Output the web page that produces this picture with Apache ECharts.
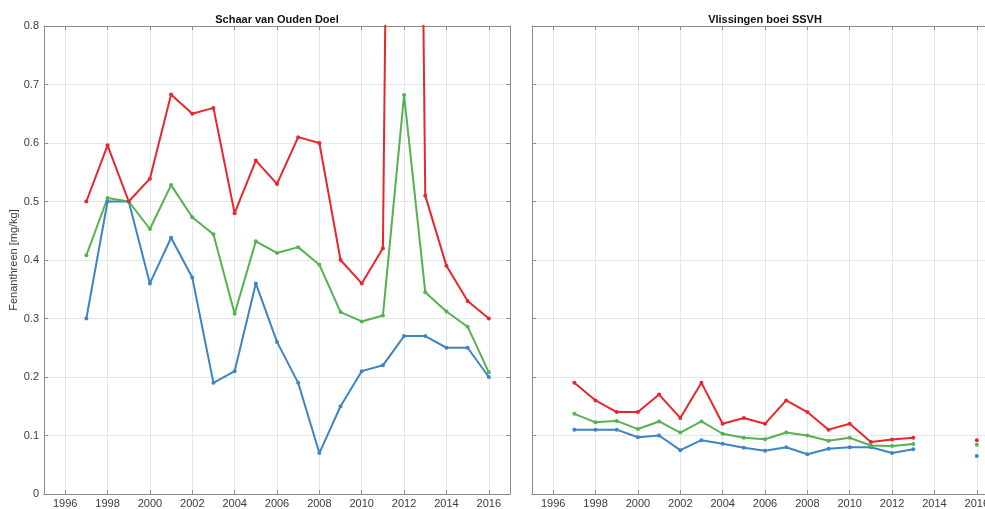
<!DOCTYPE html>
<html><head><meta charset="utf-8">
<script src="https://cdn.jsdelivr.net/npm/echarts@6/dist/echarts.min.js"></script>
<style>html,body{margin:0;padding:0;background:#fff;overflow:hidden}#c{width:985px;height:509px}</style>
</head><body><div id="c"></div>
<script>
const years = [1997,1998,1999,2000,2001,2002,2003,2004,2005,2006,2007,2008,2009,2010,2011,2012,2013,2014,2015,2016];
const panelTitles = ['Schaar van Ouden Doel', 'Vlissingen boei SSVH'];
const yAxisName = 'Fenanthreen [mg/kg]';

// Schaar van Ouden Doel
const leftMax  = [0.50,0.596,0.50,0.539,0.683,0.650,0.660,0.480,0.570,0.530,0.610,0.600,0.400,0.360,0.420,3.9,0.510,0.390,0.330,0.300];
const leftMean = [0.408,0.506,0.500,0.453,0.528,0.473,0.444,0.308,0.432,0.412,0.422,0.392,0.311,0.295,0.305,0.682,0.345,0.312,0.286,0.208];
const leftMin  = [0.300,0.500,0.500,0.360,0.438,0.370,0.190,0.210,0.360,0.260,0.190,0.070,0.150,0.210,0.220,0.270,0.270,0.250,0.250,0.200];

// Vlissingen boei SSVH
const rightMax  = [0.190,0.160,0.140,0.140,0.170,0.130,0.190,0.120,0.130,0.120,0.160,0.140,0.110,0.120,0.089,0.093,0.096,null,null,0.092];
const rightMean = [0.137,0.1225,0.125,0.111,0.124,0.105,0.124,0.103,0.096,0.0935,0.105,0.100,0.091,0.096,0.083,0.082,0.0855,null,null,0.084];
const rightMin  = [0.110,0.110,0.110,0.097,0.100,0.075,0.092,0.086,0.079,0.074,0.080,0.068,0.0775,0.080,0.080,0.070,0.0765,null,null,0.065];

const colors = {max:'#e8272d', mean:'#55b250', min:'#3d85c3'};
const FONT = '"Liberation Sans", Arial, Helvetica, sans-serif';
const boxColor = '#8c8c8c';
const gridColor = '#e6e6e6';
const textColor = '#3a3a3a';

function pairs(vals){ return years.map((y,i)=>[y, vals[i]==null ? '-' : vals[i]]); }

function xAx(gridIndex, pos, name){
  return {
    type:'value', gridIndex, position:pos, min:1995, max:2017,
    splitNumber:11, minInterval:2, maxInterval:2,
    name: name || '', nameLocation:'middle', nameGap:1,
    nameTextStyle:{fontFamily:FONT, fontSize:11, fontWeight:'bold', color:'#111', verticalAlign:'bottom'},
    axisLine:{show:true, onZero:false, lineStyle:{color:boxColor, width:1}},
    axisTick:{show:true, inside:true, length:4, lineStyle:{color:boxColor}},
    axisLabel:{show:pos==='bottom', showMinLabel:false, showMaxLabel:false, hideOverlap:false,
      margin:4, fontFamily:FONT, fontSize:11, color:textColor, formatter:v=>String(v)},
    splitLine:{show:pos==='bottom', lineStyle:{color:gridColor, width:1}}
  };
}
function yAx(gridIndex, pos, labels, name){
  return {
    type:'value', gridIndex, position:pos, min:0, max:0.8, interval:0.1,
    name: name || '', nameLocation:'middle', nameGap:18,
    nameTextStyle:{fontFamily:FONT, fontSize:11, color:textColor},
    axisLine:{show:true, onZero:false, lineStyle:{color:boxColor, width:1}},
    axisTick:{show:true, inside:true, length:4, lineStyle:{color:boxColor}},
    axisLabel:{show:labels, margin:5, fontFamily:FONT, fontSize:11, color:textColor,
      formatter:v=>String(Math.round(v*10)/10)},
    splitLine:{show:pos==='left', lineStyle:{color:gridColor, width:1}}
  };
}
function line(name, vals, color, xi, yi){
  return {
    name, type:'line', xAxisIndex:xi, yAxisIndex:yi, data:pairs(vals),
    symbol:'circle', symbolSize:4, showSymbol:true, showAllSymbol:true,
    connectNulls:false, clip:true, animation:false,
    lineStyle:{color, width:2}, itemStyle:{color}
  };
}

const chart = echarts.init(document.getElementById('c'), null, {renderer:'canvas'});
chart.setOption({
  backgroundColor:'#fff',
  animation:false,
  grid:[
    {left:44, right:475, top:26, bottom:15, containLabel:false, outerBoundsMode:'none'},
    {left:532, right:-13, top:26, bottom:15, containLabel:false, outerBoundsMode:'none'}
  ],
  xAxis:[ xAx(0,'bottom'), xAx(0,'top',panelTitles[0]), xAx(1,'bottom'), xAx(1,'top',panelTitles[1]) ],
  yAxis:[ yAx(0,'left',true,yAxisName), yAx(0,'right',false), yAx(1,'left',false), yAx(1,'right',false) ],
  series:[
    line('min',  leftMin,  colors.min, 0, 0),
    line('mean', leftMean, colors.mean,0, 0),
    line('max',  leftMax,  colors.max, 0, 0),
    line('min',  rightMin, colors.min, 2, 2),
    line('mean', rightMean,colors.mean,2, 2),
    line('max',  rightMax, colors.max, 2, 2)
  ]
});
</script>
</body></html>
